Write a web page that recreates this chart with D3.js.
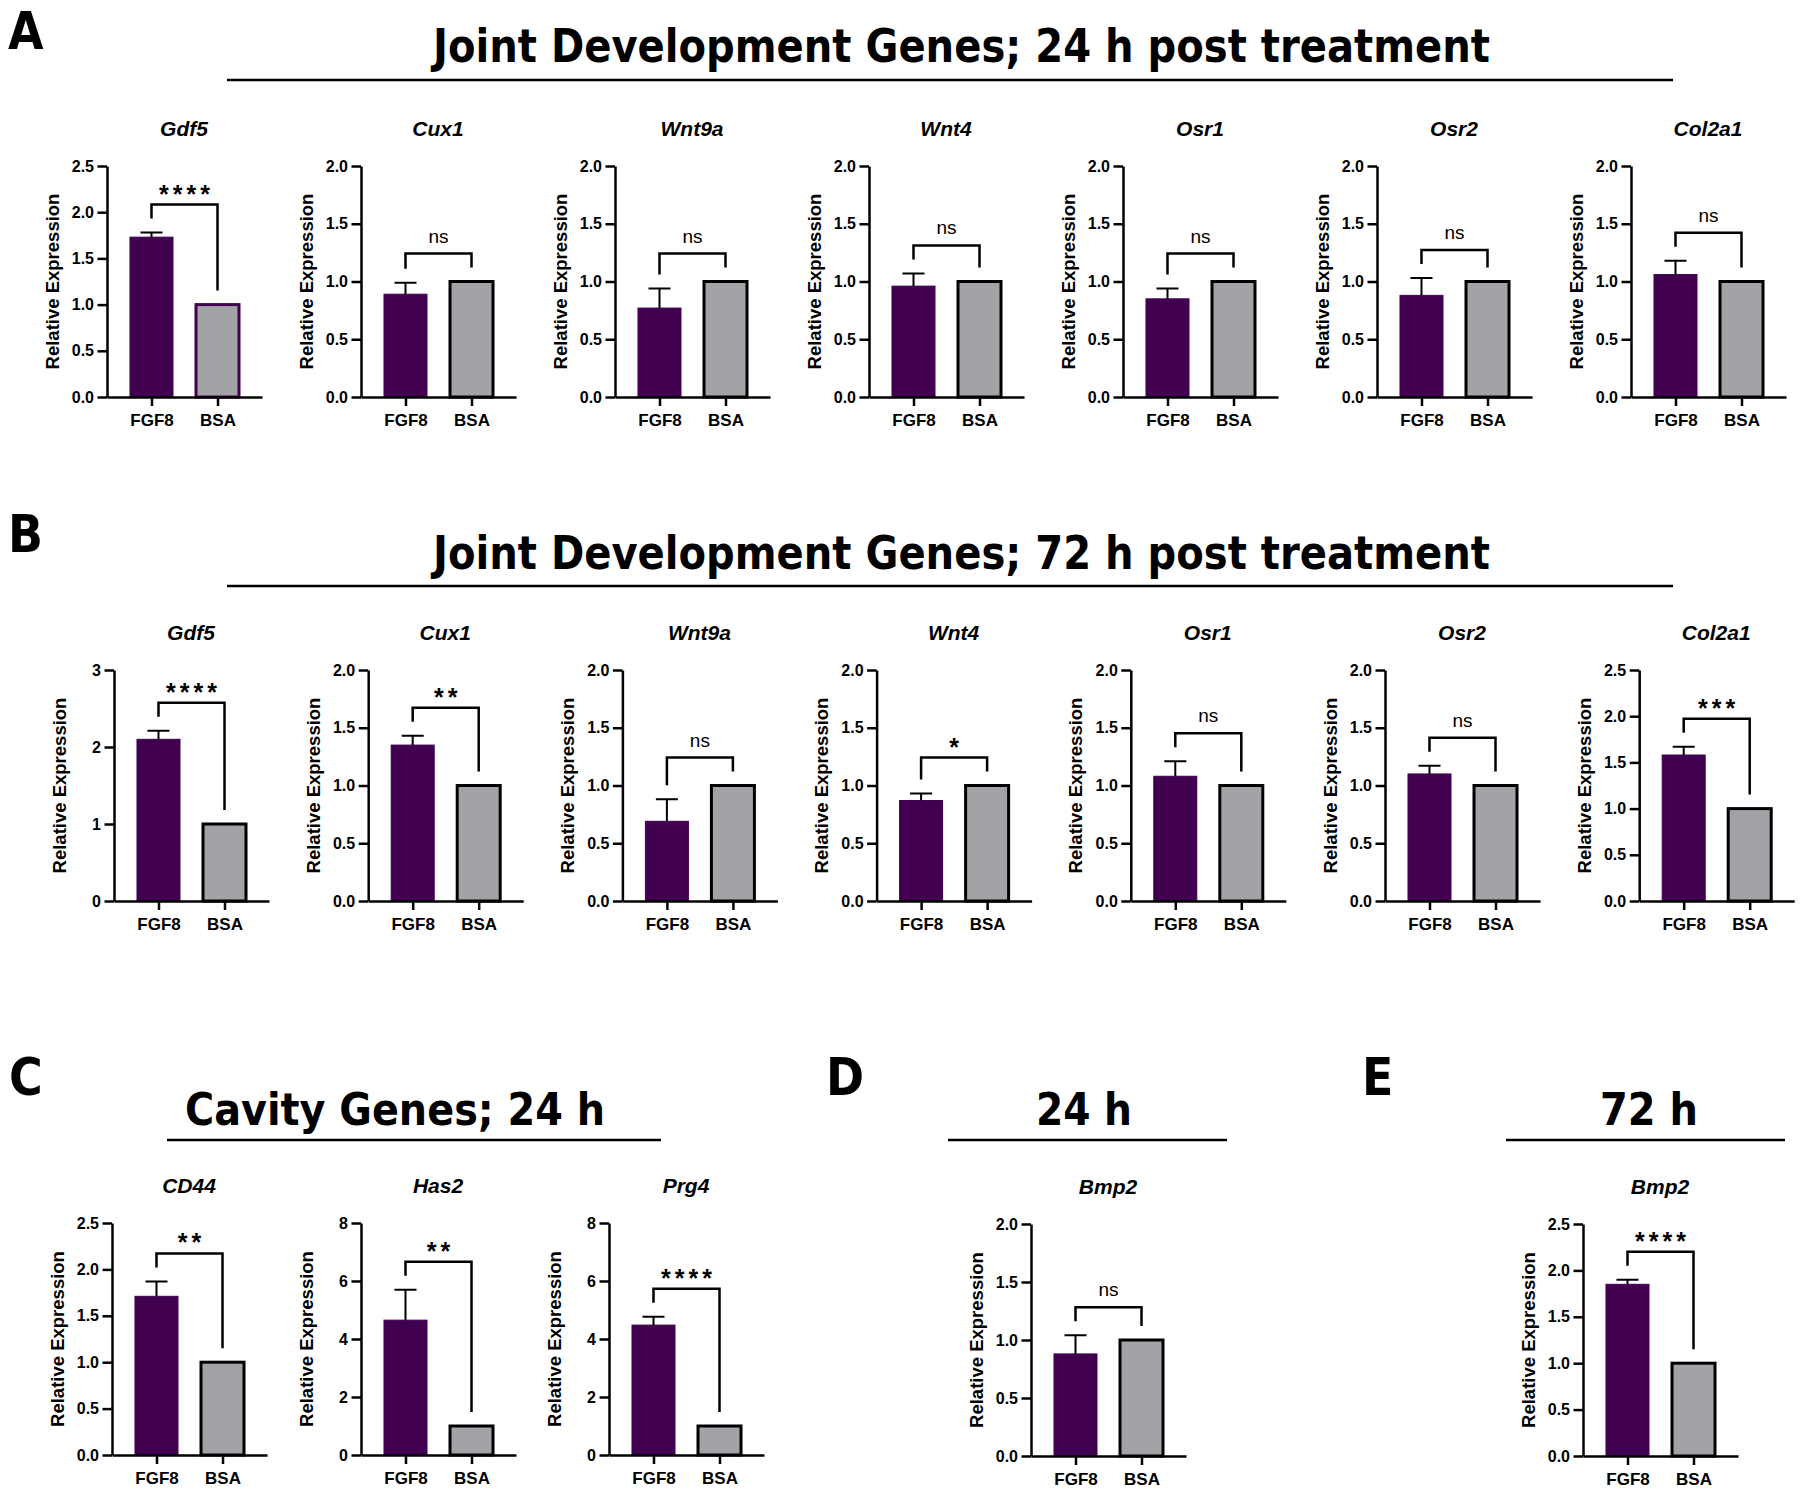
<!DOCTYPE html>
<html>
<head>
<meta charset="utf-8">
<script src="https://cdn.jsdelivr.net/npm/d3@7"></script>
<style>
  body { margin: 0; background: #fff; }
  svg { display: block; }
</style>
</head>
<body>
<svg id="fig" width="1800" height="1490"></svg>
<script>
const groups = ['FGF8', 'BSA'];

// A: joint development genes, 24 h
const genesA = ['Gdf5', 'Cux1', 'Wnt9a', 'Wnt4', 'Osr1', 'Osr2', 'Col2a1'];
const fgf8A = [1.73, 0.89, 0.77, 0.96, 0.85, 0.88, 1.06];
const errA = [0.05, 0.10, 0.17, 0.11, 0.09, 0.15, 0.12];
const bsaA = [1, 1, 1, 1, 1, 1, 1];
const sigA = ['****', 'ns', 'ns', 'ns', 'ns', 'ns', 'ns'];
const ymaxA = [2.5, 2, 2, 2, 2, 2, 2];

// B: joint development genes, 72 h
const genesB = ['Gdf5', 'Cux1', 'Wnt9a', 'Wnt4', 'Osr1', 'Osr2', 'Col2a1'];
const fgf8B = [2.10, 1.35, 0.69, 0.87, 1.08, 1.10, 1.58];
const errB = [0.11, 0.08, 0.19, 0.06, 0.13, 0.07, 0.09];
const bsaB = [1, 1, 1, 1, 1, 1, 1];
const sigB = ['****', '**', 'ns', '*', 'ns', 'ns', '***'];
const ymaxB = [3, 2, 2, 2, 2, 2, 2.5];

// C: cavity genes, 24 h
const genesC = ['CD44', 'Has2', 'Prg4'];
const fgf8C = [1.71, 4.65, 4.48];
const errC = [0.16, 1.05, 0.29];
const bsaC = [1, 1, 1];
const sigC = ['**', '**', '****'];
const ymaxC = [2.5, 8, 8];

// D / E: Bmp2 at 24 h and 72 h
const genesDE = ['Bmp2', 'Bmp2'];
const fgf8DE = [0.88, 1.85];
const errDE = [0.16, 0.05];
const bsaDE = [1, 1];
const sigDE = ['ns', '****'];
const ymaxDE = [2, 2.5];

// y tick sets
const ticksBy = {
  2: [0, 0.5, 1, 1.5, 2],
  2.5: [0, 0.5, 1, 1.5, 2, 2.5],
  3: [0, 1, 2, 3],
  8: [0, 2, 4, 6, 8]
};

const headers = [
  { text: 'Joint Development Genes; 24 h post treatment', x0: 433, x1: 1490, base: 62, size: 46, lx0: 227, lx1: 1673, ly: 80 },
  { text: 'Joint Development Genes; 72 h post treatment', x0: 433, x1: 1490, base: 569, size: 46, lx0: 227, lx1: 1673, ly: 586 },
  { text: 'Cavity Genes; 24 h', x0: 185, x1: 605, base: 1125, size: 44, lx0: 167, lx1: 661, ly: 1140 },
  { text: '24 h', x0: 1036, x1: 1132, base: 1125, size: 44, lx0: 948, lx1: 1227, ly: 1140 },
  { text: '72 h', x0: 1600, x1: 1698, base: 1125, size: 44, lx0: 1506, lx1: 1785, ly: 1140 }
];
const letters = [
  { t: 'A', x: 8, y: 49 }, { t: 'B', x: 8, y: 552 }, { t: 'C', x: 9, y: 1095 },
  { t: 'D', x: 826, y: 1095 }, { t: 'E', x: 1362, y: 1095 }
];

const purple = '#40004f';
const grey = '#a3a3a7';
const sans = '"Liberation Sans", Arial, sans-serif';
const heavy = '"DejaVu Sans Condensed", "DejaVu Sans", sans-serif';

const svg = d3.select('#fig');

headers.forEach(h => {
  svg.append('text')
    .attr('x', h.x0).attr('y', h.base)
    .attr('textLength', h.x1 - h.x0).attr('lengthAdjust', 'spacingAndGlyphs')
    .attr('font-family', heavy).attr('font-weight', 'bold').attr('font-size', h.size)
    .text(h.text);
  svg.append('line')
    .attr('x1', h.lx0).attr('x2', h.lx1).attr('y1', h.ly).attr('y2', h.ly)
    .attr('stroke', '#000').attr('stroke-width', 2.7);
});

svg.selectAll('.letter').data(letters).join('text')
  .attr('class', 'letter')
  .attr('x', d => d.x).attr('y', d => d.y)
  .attr('font-family', heavy).attr('font-weight', 'bold').attr('font-size', 51)
  .text(d => d.t);

function drawPanel(p) {
  const g = svg.append('g');
  const y = d3.scaleLinear().domain([0, p.ymax]).range([p.bottom, p.top]);
  const x = d3.scalePoint().domain(groups).range([p.ax, p.ax + 155]).padding(0.674);
  const fmt = (p.ymax === 3 || p.ymax === 8) ? d3.format('d') : d3.format('.1f');

  const vals = [{ k: 'FGF8', v: p.fgf8 }, { k: 'BSA', v: p.bsa }];
  g.selectAll('.bar').data(vals).join('rect')
    .attr('class', 'bar')
    .attr('x', d => x(d.k) - 21.5)
    .attr('width', 43)
    .attr('y', d => y(d.v))
    .attr('height', d => y(0) - y(d.v))
    .attr('fill', d => d.k === 'FGF8' ? purple : grey)
    .attr('stroke', d => d.k === 'FGF8' ? purple : p.bsaStroke)
    .attr('stroke-width', d => d.k === 'FGF8' ? 1 : 3);

  // upper error bar
  const ex = x('FGF8');
  g.append('path')
    .attr('d', `M${ex},${y(p.fgf8)}V${y(p.fgf8 + p.err)}M${ex - 11},${y(p.fgf8 + p.err)}H${ex + 11}`)
    .attr('stroke', '#000').attr('stroke-width', 2).attr('fill', 'none');

  // y axis
  const ya = g.append('g').attr('transform', `translate(${p.ax},0)`)
    .call(d3.axisLeft(y).tickValues(ticksBy[p.ymax]).tickFormat(fmt)
      .tickSize(9.5).tickSizeOuter(0).tickPadding(3.5));
  // x axis
  const xa = g.append('g').attr('transform', `translate(0,${p.bottom})`)
    .call(d3.axisBottom(x).tickSize(9).tickSizeOuter(0));
  [ya, xa].forEach(a => {
    a.selectAll('path, line').attr('stroke', '#000').attr('stroke-width', 2.5);
    a.selectAll('text').attr('fill', '#000').attr('font-family', sans)
      .attr('font-weight', 'bold');
  });
  ya.selectAll('text').attr('font-size', 16);
  xa.selectAll('text').attr('font-size', 17).attr('y', 29).attr('dy', 0);

  // significance bracket
  const x1 = x('FGF8'), x2 = x('BSA');
  const leftEnd = y(p.fgf8 + p.err) - 14;
  const rightEnd = y(p.bsa) - 14;
  const by = Math.min(leftEnd, rightEnd) - 14;
  g.append('path')
    .attr('d', `M${x1},${leftEnd}V${by}H${x2}V${rightEnd}`)
    .attr('stroke', '#000').attr('stroke-width', 2.5).attr('fill', 'none');
  const st = g.append('text')
    .attr('x', (x1 + x2) / 2)
    .attr('text-anchor', 'middle')
    .attr('font-family', sans)
    .text(p.sig);
  if (p.sig === 'ns') {
    st.attr('y', by - 11).attr('font-size', 19);
  } else {
    st.attr('y', by - 2).attr('font-size', 25).attr('font-weight', 'bold')
      .attr('letter-spacing', 4).attr('dx', 2);
  }

  // gene title
  g.append('text')
    .attr('x', p.ax + 77).attr('y', p.top - 30.5)
    .attr('text-anchor', 'middle')
    .attr('font-family', sans).attr('font-weight', 'bold').attr('font-style', 'italic')
    .attr('font-size', 21)
    .text(p.gene);

  // y label
  g.append('text')
    .attr('transform', `translate(${p.ax - 55},${(p.top + p.bottom) / 2}) rotate(-90)`)
    .attr('text-anchor', 'middle').attr('dominant-baseline', 'central')
    .attr('font-family', sans).attr('font-weight', 'bold').attr('font-size', 18.5)
    .text('Relative Expression');
}

function rowPanels(genes, fgf8, err, bsa, sig, ymax, axes, top, bottom) {
  return genes.map((gene, i) => ({
    gene, fgf8: fgf8[i], err: err[i], bsa: bsa[i], sig: sig[i], ymax: ymax[i],
    ax: axes[i], top, bottom, bsaStroke: '#000'
  }));
}

const axesA = genesA.map((d, i) => 107 + 254 * i);
const axesB = genesB.map((d, i) => 114 + 254.2 * i);
const axesC = [112, 361, 609];
const axesDE = [1031, 1583];

const panels = [
  ...rowPanels(genesA, fgf8A, errA, bsaA, sigA, ymaxA, axesA, 166, 397),
  ...rowPanels(genesB, fgf8B, errB, bsaB, sigB, ymaxB, axesB, 670, 901),
  ...rowPanels(genesC, fgf8C, errC, bsaC, sigC, ymaxC, axesC, 1223, 1455),
  ...rowPanels(genesDE, fgf8DE, errDE, bsaDE, sigDE, ymaxDE, axesDE, 1224, 1456)
];
panels[0].bsaStroke = purple; // Gdf5 24 h control bar is outlined in purple

panels.forEach(drawPanel);
</script>
</body>
</html>
